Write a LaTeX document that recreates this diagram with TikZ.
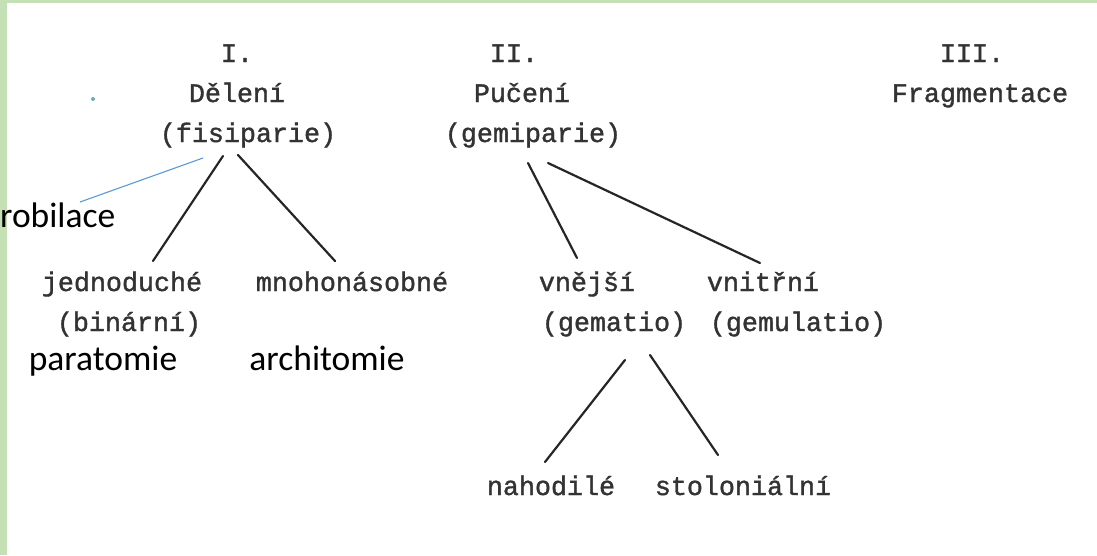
\documentclass[tikz,border=0pt]{standalone}
\usepackage{fontspec}
\usetikzlibrary{calc}
\newfontfamily\typew[FakeBold=1.3]{Liberation Mono}
\newfontfamily\calib{Carlito}
\definecolor{frameGreen}{HTML}{C5E0B4}
\definecolor{noteBlue}{HTML}{5B9BD5}
\tikzset{
  tw/.style={inner sep=0pt, anchor=base, text=black!80, font=\typew\fontsize{26.7}{32}\selectfont},
  note/.style={inner sep=0pt, anchor=base, text=black, font=\calib\fontsize{35.5}{42}\selectfont},
  branch/.style={line width=2.2pt, draw=black!85, line cap=round},
  pointer/.style={line width=1.1pt, draw=noteBlue}
}
\begin{document}
\begin{tikzpicture}[x=1pt,y=-1pt]
\useasboundingbox (0,0) rectangle (1097,555);
\fill[white] (0,0) rectangle (1097,555);
\fill[frameGreen] (0,0) rectangle (7,555);
\fill[frameGreen] (0,0) rectangle (1097,2.5);
\fill[teal!60] (93,99) circle (2);

% group I
\node[tw] (t1) at (237,62) {I.};
\node[tw] (del) at (237,102) {Dělení};
\node[tw] (fis) at (248,142) {(fisiparie)};
% group II
\node[tw] (t2) at (514,62) {II.};
\node[tw] (puc) at (522,102) {Pučení};
\node[tw] (gem) at (533,142) {(gemiparie)};
% group III
\node[tw] (t3) at (972,62) {III.};
\node[tw] (fra) at (980,102) {Fragmentace};

% level 2
\node[tw] (jed) at (122,291) {jednoduché};
\node[tw] (bin) at (129,331) {(binární)};
\node[tw] (mno) at (352,291) {mnohonásobné};
\node[tw] (vne) at (587,291) {vnější};
\node[tw] (gema) at (614,331) {(gematio)};
\node[tw] (vni) at (763,291) {vnitřní};
\node[tw] (gemu) at (798,331) {(gemulatio)};
% level 3
\node[tw] (nah) at (551,495) {nahodilé};
\node[tw] (sto) at (743,495) {stoloniální};

% notes
\node[note, anchor=base west] (rob) at (0,227) {robilace};
\node[note] (par) at (103,370) {paratomie};
\node[note] (arc) at (327,370) {architomie};

% connectors
\draw[branch] ($(fis.base)+(-25,14)$) -- ($(jed.base)+(31,-30)$);
\draw[branch] ($(fis.base)+(-10,13)$) -- ($(mno.base)+(-17,-30)$);
\draw[branch] ($(gem.base)+(-5,21)$) -- ($(vne.base)+(-10,-33)$);
\draw[branch] ($(gem.base)+(15,21)$) -- ($(vni.base)+(-3,-28)$);
\draw[branch] ($(gema.base)+(11,29)$) -- ($(nah.base)+(-6,-33)$);
\draw[branch] ($(gema.base)+(36,24)$) -- ($(sto.base)+(-25,-40)$);
\draw[pointer] ($(fis.base)+(-45,16)$) -- ($(rob.base west)+(80,-25)$);
\end{tikzpicture}
\end{document}
